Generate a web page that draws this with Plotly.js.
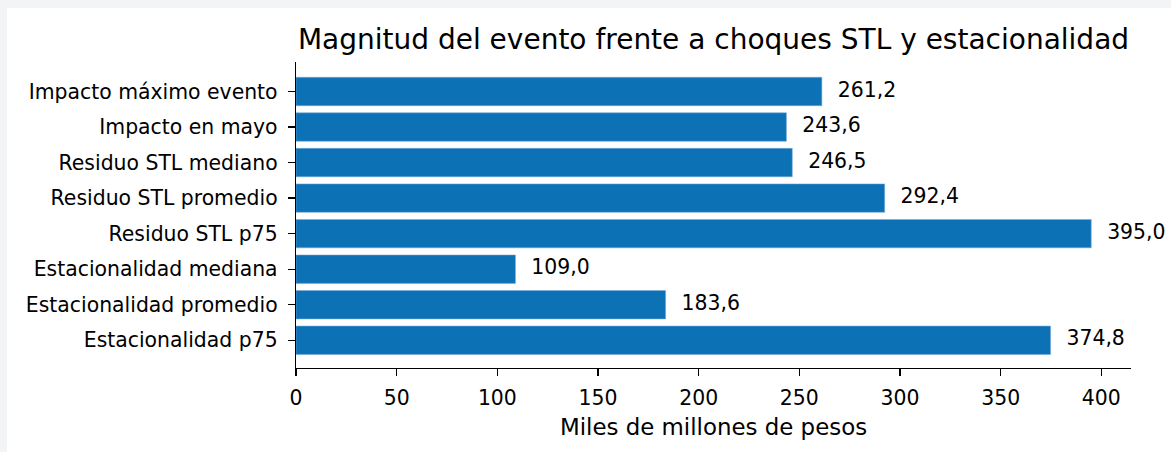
<!DOCTYPE html>
<html>
<head>
<meta charset="utf-8">
<script src="https://cdn.plot.ly/plotly-3.0.1.min.js"></script>
<style>
  html, body { margin: 0; padding: 0; background: #f3f4f5; width: 1171px; height: 452px; overflow: hidden; }
  #chart { position: absolute; left: 7px; top: 8px; width: 1164px; height: 444px; background: #fff; }
</style>
</head>
<body>
<div id="chart"></div>
<script>
const categories = [
  "Impacto máximo evento",
  "Impacto en mayo",
  "Residuo STL mediano",
  "Residuo STL promedio",
  "Residuo STL p75",
  "Estacionalidad mediana",
  "Estacionalidad promedio",
  "Estacionalidad p75"
];
const values = [261.2, 243.6, 246.5, 292.4, 395.0, 109.0, 183.6, 374.8];
const xTicks = [0, 50, 100, 150, 200, 250, 300, 350, 400];
const titleText = "Magnitud del evento frente a choques STL y estacionalidad";
const xTitle = "Miles de millones de pesos";

const fmt = v => v.toFixed(1).replace('.', ',');
const maxV = Math.max(...values);
const offset = maxV * 0.02;
const FONT = "DejaVu Sans, sans-serif";
const TS = 20.4;

const bars = {
  type: 'bar',
  orientation: 'h',
  x: values,
  y: categories,
  width: 0.8,
  marker: { color: '#0d72b5', line: { color: 'rgba(120,170,220,0.9)', width: 0.6 } },
  hoverinfo: 'skip',
  showlegend: false
};
const labels = {
  type: 'scatter',
  mode: 'text',
  x: values.map(v => v + offset),
  y: categories,
  text: values.map(fmt),
  textposition: 'middle right',
  textfont: { family: FONT, size: TS, color: '#000' },
  hoverinfo: 'skip',
  showlegend: false,
  cliponaxis: false
};

const n = categories.length;
const layout = {
  width: 1164, height: 444,
  margin: { l: 289, r: 40, t: 54, b: 84 },
  paper_bgcolor: '#fff',
  plot_bgcolor: '#fff',
  font: { family: FONT, size: TS, color: '#000' },
  title: {
    text: titleText,
    font: { family: FONT, size: 28, color: '#000' },
    x: 0.5, xref: 'paper', xanchor: 'center',
    y: 1, yref: 'paper', yanchor: 'bottom', pad: { b: 13 }
  },
  xaxis: {
    range: [0, maxV * 1.05],
    tickvals: xTicks,
    ticktext: xTicks.map(String),
    ticks: 'outside', ticklen: 7, tickwidth: 1.3, tickcolor: '#000',
    showline: true, linecolor: '#000', linewidth: 1.3,
    showgrid: false, zeroline: false,
    tickfont: { family: FONT, size: TS, color: '#000' },
    ticklabelstandoff: 4,
    title: { text: xTitle, font: { family: FONT, size: 22.9, color: '#000' }, standoff: 10 }
  },
  yaxis: {
    type: 'category',
    categoryorder: 'array',
    categoryarray: categories,
    range: [n - 1 + 0.78, -0.83],
    ticks: 'outside', ticklen: 7, tickwidth: 1.3, tickcolor: '#000',
    showline: true, linecolor: '#000', linewidth: 1.3,
    showgrid: false, zeroline: false,
    tickfont: { family: FONT, size: TS, color: '#000' },
    ticklabelstandoff: 6
  },
  bargap: 0.2
};

Plotly.newPlot('chart', [bars, labels], layout, { staticPlot: true, displayModeBar: false });
</script>
</body>
</html>
